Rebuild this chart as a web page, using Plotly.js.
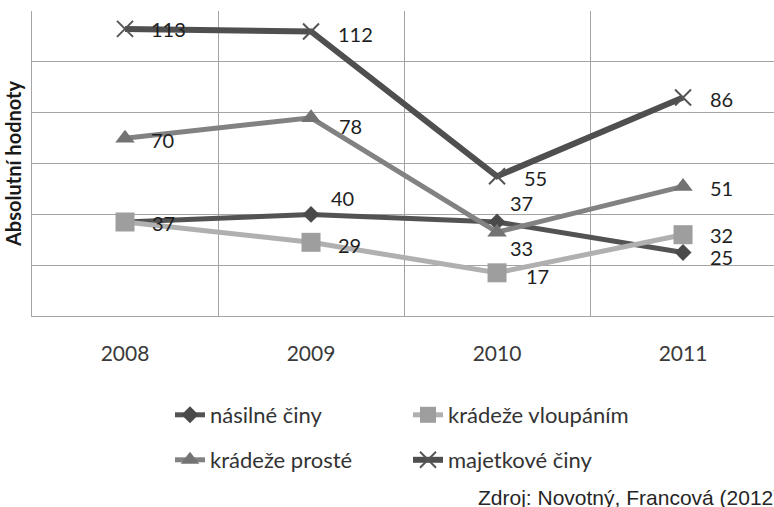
<!DOCTYPE html>
<html>
<head>
<meta charset="utf-8">
<script src="https://cdn.plot.ly/plotly-3.0.1.min.js"></script>
<style>html,body{margin:0;padding:0;background:#fff;}#chart{width:774px;height:507px;}</style>
</head>
<body>
<div id="chart"></div>
<script>
// ---- data ----
const years = ['2008', '2009', '2010', '2011'];
const seriesNames = ['násilné činy', 'krádeže vloupáním', 'krádeže prosté', 'majetkové činy'];
const nasilneCiny = [37, 40, 37, 25];
const kradezeVloupanim = [37, 29, 17, 32];
const kradezeProste = [70, 78, 33, 51];
const majetkoveCiny = [113, 112, 55, 86];
const yAxisTitle = 'Absolutní hodnoty';
const sourceNote = 'Zdroj: Novotný, Francová (2012)';

// ---- styling (not data) ----
const seriesValues = [nasilneCiny, kradezeVloupanim, kradezeProste, majetkoveCiny];
const styles = [
  {line: {color: '#535353', width: 5}, marker: {symbol: 'diamond', size: 13, color: '#4a4a4a'}, legend: 'legend'},
  {line: {color: '#b0b0b0', width: 5}, marker: {symbol: 'square', size: 19, color: '#9e9e9e'}, legend: 'legend'},
  {line: {color: '#828282', width: 5}, marker: {symbol: 'triangle-up', size: 17, color: '#737373'}, legend: 'legend2'},
  {line: {color: '#4f4f4f', width: 6}, marker: {symbol: 'x-thin-open', size: 16, color: '#555555', line: {color: '#555555', width: 2}}, legend: 'legend2'}
];
// label offsets [dx, dy] in px; null = label not shown
const labelShifts = [
  [null, [18, 16], [11, 19], [25, -5]],
  [[25, -1], [25, -3], [27, -3], [25, 0]],
  [[24, -2], [26, -8], [11, -16], [25, -2]],
  [[24, 0], [25, -3], [25, -2], [25, -1]]
];

const traces = seriesValues.map((vals, i) => ({
  type: 'scatter',
  mode: 'lines+markers',
  name: seriesNames[i],
  x: years,
  y: vals,
  line: styles[i].line,
  marker: styles[i].marker,
  legend: styles[i].legend,
  hoverinfo: 'x+y+name'
}));

const annotations = [];
seriesValues.forEach((vals, i) => {
  vals.forEach((v, j) => {
    const s = labelShifts[i][j];
    if (!s) return;
    annotations.push({
      x: j, y: v, xref: 'x', yref: 'y',
      text: String(v), showarrow: false,
      xanchor: 'left', yanchor: 'middle',
      xshift: s[0], yshift: s[1],
      font: {family: 'Lato', size: 20, color: '#1e1e1e'}
    });
  });
});
annotations.push({
  text: sourceNote, showarrow: false,
  xref: 'paper', yref: 'paper',
  x: (476 - 32) / 742, y: (316 - 497) / 305,
  xanchor: 'left', yanchor: 'middle',
  font: {family: 'Liberation Sans, Arial', size: 21, color: '#262626'}
});

const gridColor = '#a4a4a4';
const legendFont = {family: 'Lato', size: 22, color: '#333333'};

const layout = {
  width: 774, height: 507,
  margin: {l: 32, r: 0, t: 11, b: 191, pad: 0},
  paper_bgcolor: '#ffffff', plot_bgcolor: '#ffffff',
  showlegend: true,
  xaxis: {
    type: 'category',
    range: [-0.5, 3.489],
    tickson: 'boundaries',
    showgrid: true, gridcolor: gridColor, gridwidth: 1,
    showline: true, linecolor: gridColor, linewidth: 1,
    ticks: '', ticklabelstandoff: 19,
    tickfont: {family: 'Lato', size: 21, color: '#3a3a3a'},
    zeroline: false, fixedrange: true
  },
  yaxis: {
    range: [0, 120.05], tick0: 0, dtick: 20,
    showgrid: true, gridcolor: gridColor, gridwidth: 1,
    showline: true, linecolor: gridColor, linewidth: 1,
    showticklabels: false, ticks: '', zeroline: false, fixedrange: true,
    title: {text: yAxisTitle, standoff: 4, font: {family: 'Lato', size: 20, weight: 'bold', color: '#1a1a1a'}}
  },
  legend: {
    orientation: 'h', xref: 'container', yref: 'container',
    x: 170 / 774, xanchor: 'left', y: 1 - 415 / 507, yanchor: 'middle',
    entrywidth: 193, entrywidthmode: 'pixels',
    font: legendFont, bgcolor: 'rgba(0,0,0,0)', borderwidth: 0
  },
  legend2: {
    orientation: 'h', xref: 'container', yref: 'container',
    x: 170 / 774, xanchor: 'left', y: 1 - 460 / 507, yanchor: 'middle',
    entrywidth: 193, entrywidthmode: 'pixels',
    font: legendFont, bgcolor: 'rgba(0,0,0,0)', borderwidth: 0
  },
  annotations: annotations
};

Plotly.newPlot('chart', traces, layout, {displayModeBar: false});
</script>
</body>
</html>
